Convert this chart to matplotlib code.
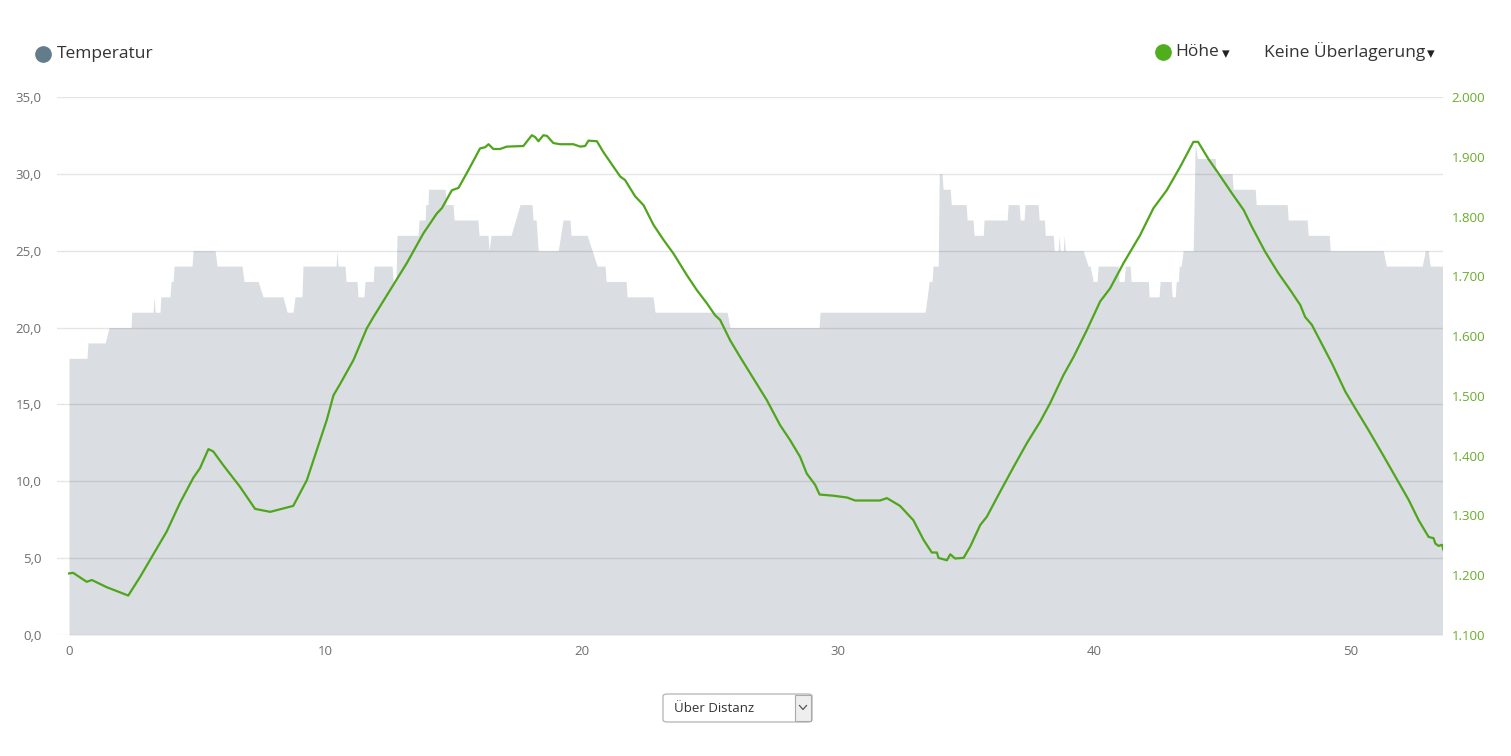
import matplotlib
matplotlib.use("Agg")
import matplotlib.pyplot as plt
from matplotlib.lines import Line2D
from matplotlib.patches import Rectangle, FancyBboxPatch
from matplotlib.ticker import FuncFormatter

plt.rcParams['font.family'] = ['Open Sans', 'DejaVu Sans']

# Temperatur (Grad C) ueber Distanz (km)
temp_km = [0.00, 0.70, 0.74, 1.41, 1.56, 2.42, 2.45, 3.28, 3.32, 3.36, 3.55, 3.58, 3.94, 3.98, 4.06,
           4.10, 4.80, 4.84, 5.70, 5.78, 6.75, 6.83, 7.38, 7.57, 8.35, 8.51, 8.74, 8.82, 9.09,
           9.13, 10.42, 10.46, 10.50, 10.77, 10.81, 11.24, 11.28, 11.51, 11.55, 11.87, 11.90, 12.61,
           12.65, 12.76, 12.80, 13.62, 13.66, 13.90, 13.92, 14.01, 14.03, 14.68, 14.71, 14.99,
           15.03, 15.96, 16.00, 16.35, 16.39, 16.47, 17.25, 17.60, 18.07, 18.11, 18.23, 18.31,
           19.09, 19.28, 19.55, 19.59, 20.22, 20.61, 20.92, 20.96, 21.74, 21.78, 22.79, 22.87,
           25.68, 25.80, 29.27, 29.31, 33.41, 33.57, 33.68, 33.72, 33.92, 33.96, 34.07, 34.11,
           34.39, 34.43, 35.01, 35.05, 35.28, 35.32, 35.68, 35.71, 36.61, 36.65, 37.08, 37.12,
           37.27, 37.31, 37.82, 37.86, 38.06, 38.10, 38.41, 38.45, 38.60, 38.64, 38.68, 38.80,
           38.84, 38.88, 39.58, 39.77, 39.85, 39.97, 40.12, 40.16, 40.94, 40.98, 41.18, 41.22,
           41.41, 41.45, 42.12, 42.15, 42.54, 42.58, 43.01, 43.05, 43.17, 43.21, 43.29, 43.33,
           43.40, 43.48, 43.87, 43.95, 44.03, 44.73, 44.77, 45.39, 45.43, 46.29, 46.33, 47.54,
           47.58, 48.32, 48.36, 49.18, 49.22, 51.29, 51.41, 52.81, 52.93, 53.04, 53.12, 53.60]
temp_val = [18, 18, 19, 19, 20, 20, 21, 21, 22, 21, 21, 22, 22, 23, 23,
            24, 24, 25, 25, 24, 24, 23, 23, 22, 22, 21, 21, 22, 22,
            24, 24, 25, 24, 24, 23, 23, 22, 22, 23, 23, 24, 24,
            23, 23, 26, 26, 27, 27, 28, 28, 29, 29, 28, 28,
            27, 27, 26, 26, 25, 26, 26, 28, 28, 27, 27, 25,
            25, 27, 27, 26, 26, 24, 24, 23, 23, 22, 22, 21,
            21, 20, 20, 21, 21, 23, 23, 24, 24, 30, 30, 29,
            29, 28, 28, 27, 27, 26, 26, 27, 27, 28, 28, 27,
            27, 28, 28, 27, 27, 26, 26, 25, 25, 26, 25, 25,
            26, 25, 25, 24, 24, 23, 23, 24, 24, 23, 23, 24,
            24, 23, 23, 22, 22, 23, 23, 22, 22, 23, 23, 24,
            24, 25, 25, 32, 31, 31, 30, 30, 29, 29, 28, 28,
            27, 27, 26, 26, 25, 25, 24, 24, 25, 25, 24, 24]

# Hoehe (m) ueber Distanz (km)
hoehe_km = [0.00, 0.16, 0.69, 0.89, 1.47, 2.31, 2.77, 3.55, 3.81, 4.33, 4.85, 5.11, 5.44, 5.63,
            6.02, 6.67, 7.26, 7.85, 8.75, 9.28, 9.80, 10.06, 10.32, 10.58, 11.10, 11.62, 11.88,
            12.53, 13.18, 13.83, 14.35, 14.55, 14.94, 15.20, 15.59, 16.04, 16.24, 16.37, 16.56,
            16.82, 17.08, 17.73, 18.06, 18.19, 18.32, 18.51, 18.65, 18.90, 19.16, 19.68, 19.95,
            20.14, 20.27, 20.60, 20.85, 21.51, 21.70, 22.09, 22.42, 22.81, 23.20, 23.59, 24.11,
            24.50, 24.89, 25.21, 25.41, 25.80, 26.19, 26.71, 27.23, 27.75, 28.14, 28.53, 28.79,
            29.12, 29.29, 29.83, 30.36, 30.68, 31.65, 31.92, 32.43, 32.95, 33.35, 33.67, 33.87,
            33.93, 34.26, 34.39, 34.58, 34.91, 35.17, 35.56, 35.82, 36.34, 36.86, 37.38, 37.90,
            38.29, 38.81, 39.20, 39.72, 40.24, 40.63, 41.15, 41.80, 42.32, 42.84, 43.36, 43.88,
            44.06, 44.47, 44.86, 45.38, 45.84, 46.16, 46.68, 47.20, 47.66, 48.05, 48.24, 48.50,
            49.29, 49.81, 50.20, 50.71, 51.24, 51.88, 52.28, 52.67, 53.06, 53.25, 53.32, 53.45,
            53.58, 53.64]
hoehe_m = [1203, 1204, 1189, 1192, 1180, 1166, 1197, 1254, 1273, 1321, 1363, 1379, 1411, 1407,
           1384, 1348, 1311, 1306, 1316, 1359, 1426, 1460, 1501, 1520, 1560, 1613, 1632,
           1677, 1722, 1772, 1805, 1814, 1844, 1848, 1878, 1914, 1916, 1921, 1913,
           1913, 1917, 1918, 1936, 1933, 1926, 1936, 1935, 1923, 1921, 1921, 1917,
           1918, 1927, 1926, 1908, 1867, 1861, 1834, 1819, 1786, 1761, 1738, 1702,
           1677, 1655, 1635, 1627, 1593, 1565, 1529, 1493, 1451, 1426, 1398, 1370,
           1351, 1335, 1333, 1330, 1325, 1325, 1329, 1316, 1292, 1259, 1238, 1238,
           1229, 1225, 1235, 1228, 1229, 1248, 1284, 1298, 1340, 1381, 1421, 1457,
           1488, 1535, 1565, 1610, 1658, 1680, 1722, 1769, 1814, 1844, 1883, 1925,
           1925, 1896, 1872, 1839, 1811, 1783, 1741, 1705, 1677, 1652, 1632, 1619,
           1554, 1507, 1479, 1443, 1404, 1356, 1326, 1292, 1264, 1262, 1253, 1249,
           1251, 1242]

x_ticks = [0, 10, 20, 30, 40, 50]
temp_ticks = [0, 5, 10, 15, 20, 25, 30, 35]
hoehe_ticks = list(range(1100, 2001, 100))

grau = '#dadee2'
gruen = '#4fa51b'
label_grau = '#6e6e6e'

fig = plt.figure(figsize=(15.11, 7.56), dpi=100)
ax = fig.add_axes([57 / 1511, 121 / 756, 1386 / 1511, 538 / 756])
ax2 = ax.twinx()

ax.fill_between(temp_km, temp_val, 0, color=grau, lw=0, zorder=1)
ax.set_xlim(-0.47, 53.62)
ax.set_ylim(0, 35)
ax.set_yticks(temp_ticks)
ax.set_xticks(x_ticks)
ax.yaxis.set_major_formatter(FuncFormatter(lambda v, p: f'{v:.1f}'.replace('.', ',')))
ax.grid(axis='y', color='black', alpha=0.1, lw=1, zorder=2)
ax.set_axisbelow(False)
ax.tick_params(axis='y', length=0, pad=11, labelsize=9.5, labelcolor=label_grau)
ax.tick_params(axis='x', length=0, pad=7, labelsize=9.5, labelcolor=label_grau)

ax2.plot(hoehe_km, hoehe_m, color=gruen, lw=1.6, solid_joinstyle='round', zorder=3)
ax2.set_ylim(1100, 2000)
ax2.set_yticks(hoehe_ticks)
ax2.yaxis.set_major_formatter(FuncFormatter(lambda v, p: f'{int(v):,}'.replace(',', '.')))
ax2.tick_params(axis='y', length=0, pad=6, labelsize=9.5, labelcolor='#6aac2b')

for a in (ax, ax2):
    for s in a.spines.values():
        s.set_visible(False)

# Legende oben
fig.add_artist(Line2D([43 / 1511], [1 - 54 / 756], marker='o', markersize=11,
                      color='#637c8c', transform=fig.transFigure))
fig.text(57 / 1511, 1 - 54 / 756, 'Temperatur', fontsize=12.5, color='#333333', va='center')
fig.add_artist(Line2D([1163 / 1511], [1 - 52 / 756], marker='o', markersize=11,
                      color='#4fae1c', transform=fig.transFigure))
fig.text(1175 / 1511, 1 - 52 / 756, 'Höhe', fontsize=12.5, color='#333333', va='center')
fig.text(1222 / 1511, 1 - 54 / 756, '▾', fontsize=11, color='#222222', va='center',
         family=['DejaVu Sans'])
fig.text(1264 / 1511, 1 - 52 / 756, 'Keine Überlagerung', fontsize=12.5, color='#333333', va='center')
fig.text(1427 / 1511, 1 - 54 / 756, '▾', fontsize=11, color='#222222', va='center',
         family=['DejaVu Sans'])

# Auswahlfeld unten
fig.add_artist(FancyBboxPatch((663 / 1511, 1 - 722 / 756), 149 / 1511, 28 / 756,
                              boxstyle='round,pad=0,rounding_size=0.003',
                              transform=fig.transFigure, facecolor='white',
                              edgecolor='#bbbbbb', lw=1))
fig.add_artist(Rectangle((795 / 1511, 1 - 721 / 756), 16 / 1511, 26 / 756,
                         transform=fig.transFigure, facecolor='#eeeeee',
                         edgecolor='#aaaaaa', lw=0.8))
fig.text(674 / 1511, 1 - 708 / 756, 'Über Distanz', fontsize=9.5, color='#333333', va='center')
fig.add_artist(Line2D([799.5 / 1511, 803 / 1511, 806.5 / 1511],
                      [1 - 705.5 / 756, 1 - 709.5 / 756, 1 - 705.5 / 756],
                      color='#555555', lw=0.9, transform=fig.transFigure))

fig.savefig('out.png', dpi=100, facecolor='white')
